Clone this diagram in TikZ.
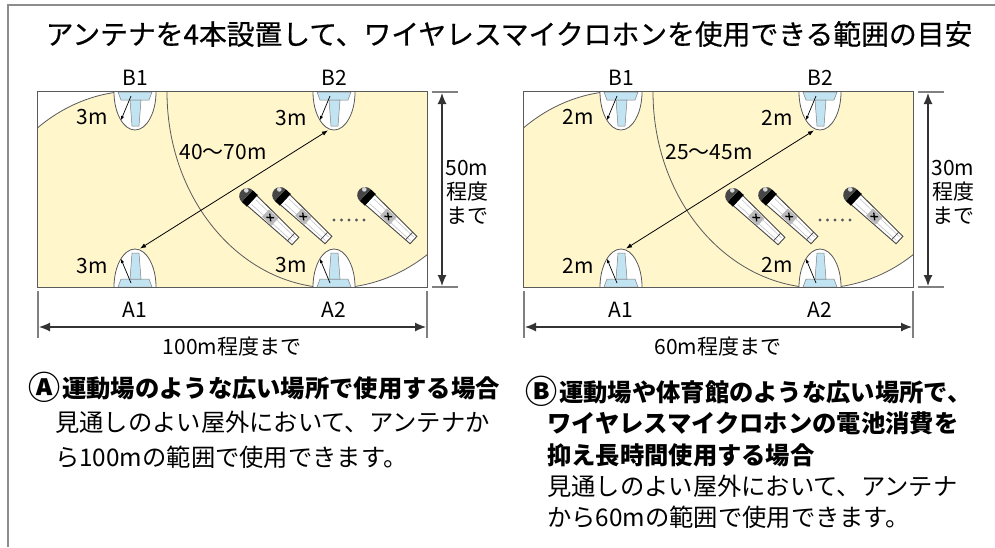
\documentclass[tikz,border=0pt]{standalone}
\usepackage{fontspec}
\setmainfont{Noto Sans CJK JP}
\newfontfamily\titlefont[FakeBold=0.6]{Noto Sans CJK JP}
\usepackage{tikz}
\usetikzlibrary{arrows.meta,positioning,shapes.geometric}

\definecolor{fieldyellow}{HTML}{FFF6CC}
\definecolor{antblue}{HTML}{C2E3F2}
\definecolor{framegray}{HTML}{8C8C8C}
\definecolor{linegray}{HTML}{5A5A5A}

% full-size circled case letter
\newcommand{\casemark}[1]{\raisebox{-0.09em}{\scalebox{1.32}{#1}}\hspace{0.08em}}

% antenna seen from above, hanging down from the origin
\newcommand{\antglyph}{%
  \filldraw[ant] (-17,0) -- (17,0) -- (14,8) -- (-14,8) -- cycle;
  \filldraw[ant] (-5,8) -- (6,8) -- (4,34) -- (-3,34) -- cycle;
  \draw[radarrow] (-4,4) -- (-14,28);
}

% hand-held microphone, grille at #1
\newcommand{\handmic}[1]{%
  \begin{scope}[shift={#1},rotate=-43]
    \filldraw[fill=white,draw=gray!55!black,line width=0.9pt]
      (9,-7) -- (69,-5) -- (69,5) -- (9,7) -- cycle;
    \draw[gray!45,line width=0.6pt] (12,-3.2) -- (67,-2.4) (12,3.2) -- (67,2.4);
    \fill[gray!55] (28,-5) rectangle (41,5);
    \draw[black,line width=1.3pt] (31.5,-2.5) -- (37.5,2.5) (31.5,2.5) -- (37.5,-2.5);
    \draw[gray!55!black,line width=0.7pt] (63,-5.2) -- (63,5.2);
    \fill[black] (3,-8) rectangle (10,8);
    \fill[gray!55!black] (3,-8) arc[start angle=-90,end angle=-270,radius=8] -- cycle;
    \fill[gray!30] (-1.5,-3.5) circle (2.3);
  \end{scope}}

\begin{document}
\begin{tikzpicture}[x=1pt,y=-1pt,>={Latex[length=11pt,width=9pt]},
  lbl/.style={font=\fontsize{21}{24}\selectfont,inner sep=0pt},
  oval/.style={ellipse,draw=linegray,fill=white,line width=0.8pt,
    minimum width=42pt,minimum height=76pt,inner sep=0pt},
  ant/.style={fill=antblue,draw=gray,line width=0.5pt},
  radarrow/.style={-{Latex[length=4pt,width=3.5pt]},line width=0.7pt},
  reacharc/.style={draw=linegray,line width=0.8pt},
  link/.style={{Latex[length=6pt,width=4.5pt]}-{Latex[length=6pt,width=4.5pt]},line width=0.8pt},
  tick/.style={draw=gray,line width=1.8pt},
  dimline/.style={<->,line width=1.2pt,draw=black!80},
  headline/.style={font=\fontsize{24.3}{30}\selectfont\bfseries,anchor=west,inner sep=0pt},
  bodyline/.style={font=\fontsize{24.3}{30}\selectfont,anchor=west,inner sep=0pt}]

  \useasboundingbox (0,0) rectangle (995,547);
  % frame, open at the right and at the bottom
  \draw[framegray,line width=2.5pt] (8,547) -- (8,5) -- (995,5);

  \node[font=\titlefont\fontsize{27.8}{32}\selectfont,inner sep=0pt] (title) at (509,34)
    {アンテナを4本設置して、ワイヤレスマイクロホンを使用できる範囲の目安};

  \foreach \dx/\p/\rad/\rng/\hgt/\wid in {0/a/3m/40～70m/50m/100m, 486/b/2m/25～45m/30m/60m}{
  \begin{scope}[shift={(\dx,0)}]
    \node[fill=fieldyellow,minimum width=389pt,minimum height=195pt,inner sep=0pt]
      (fld\p) at (232.5,189.5) {};
    \coordinate (A1) at (135,287);
    \coordinate (A2) at (334,287);
    \coordinate (B1) at (135,92);
    \coordinate (B2) at (334,92);

    \begin{scope}
      \clip (38,92) rectangle (427,287);
      % corners that no antenna reaches
      \fill[white] (A1) ++(-95:167 and 196)
        arc[start angle=-95,end angle=-130,x radius=167,y radius=196] -- (20,80) -- cycle;
      \fill[white] (B2) ++(85:167 and 196)
        arc[start angle=85,end angle=50,x radius=167,y radius=196] -- (440,300) -- cycle;
      \draw[reacharc] (A1) ++(-90:167 and 196)
        arc[start angle=-90,end angle=-130,x radius=167,y radius=196];
      \draw[reacharc] (B2) ++(180:167 and 196)
        arc[start angle=180,end angle=50,x radius=167,y radius=196];

      \foreach \n in {A1,A2,B1,B2}
        \node[oval] (o\n\p) at (\n) {};
      \foreach \x in {135,334}{
        \begin{scope}[shift={(\x,92)}] \antglyph \end{scope}
        \begin{scope}[shift={(\x,287)},yscale=-1] \antglyph \end{scope}
      }
    \end{scope}
    \draw[linegray,line width=1pt] (fld\p.north west) rectangle (fld\p.south east);

    % antenna names
    \node[lbl] (nB1\p) [above=6pt of oB1\p.center] {B1};
    \node[lbl] (nB2\p) [above=6pt of oB2\p.center] {B2};
    \node[lbl] (nA1\p) [below=15pt of oA1\p.center] {A1};
    \node[lbl] (nA2\p) [below=15pt of oA2\p.center] {A2};

    % pick-up radius of each antenna
    \node[lbl] (rB1\p) at (92,117) {\rad};
    \node[lbl] (rA1\p) at (92,266) {\rad};
    \node[lbl] (rB2\p) at (291,118) {\rad};
    \node[lbl] (rA2\p) at (291,265) {\rad};

    % distance between the antennas
    \draw[link] ([xshift=5pt]oA1\p.north) -- ([xshift=-6pt]oB2\p.south);
    \node[lbl] (rng\p) at (223,152) {\rng};

    \handmic{(245,194)}
    \handmic{(278,193)}
    \handmic{(363,193)}
    \foreach \i in {0,...,4}
      \fill[linegray] (334+7.5*\i,220) circle (1.6);

    % height of the field
    \draw[tick] (432,92) -- (458,92) (432,287) -- (458,287);
    \coordinate (vt\p) at (442,93);
    \coordinate (vb\p) at (442,286);
    \draw[dimline] (vt\p) -- (vb\p);
    \node[lbl,align=center] (hgt\p) at (467,192) {\hgt\\程度\\まで};

    % width of the field
    \draw[tick] (38,291) -- (38,338) (427,291) -- (427,338);
    \coordinate (hl\p) at (39,327);
    \coordinate (hr\p) at (426,327);
    \draw[dimline] (hl\p) -- (hr\p);
    \node[lbl] (wid\p) at (232,347) {\wid 程度まで};
  \end{scope}}

  \node[headline] (capa) at (28,387) {\casemark{Ⓐ}運動場のような広い場所で使用する場合};
  \node[bodyline] (txa1) at (55,422) {見通しのよい屋外において、アンテナか};
  \node[bodyline] (txa2) at (55,457) {ら100mの範囲で使用できます。};

  \node[headline] (capb1) at (525,391) {\casemark{Ⓑ}運動場や体育館のような広い場所で、};
  \node[headline] (capb2) at (547,423) {ワイヤレスマイクロホンの電池消費を};
  \node[headline] (capb3) at (547,455) {抑え長時間使用する場合};
  \node[bodyline] (txb1) at (547,486) {見通しのよい屋外において、アンテナ};
  \node[bodyline] (txb2) at (547,517) {から60mの範囲で使用できます。};
\end{tikzpicture}
\end{document}
